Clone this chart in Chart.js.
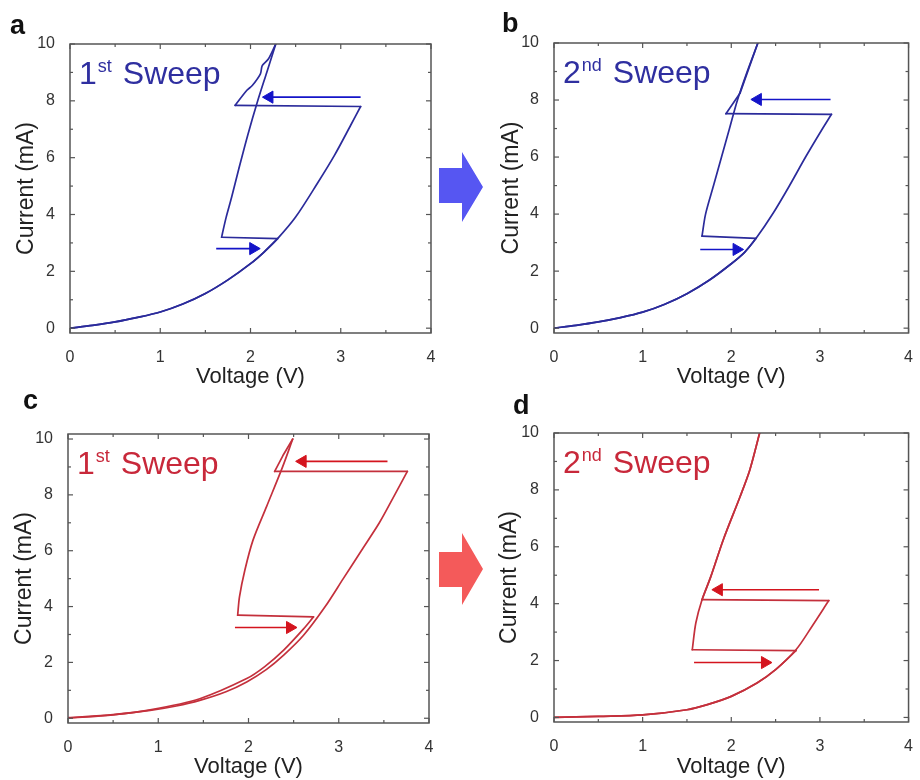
<!DOCTYPE html>
<html>
<head>
<meta charset="utf-8">
<title>I-V hysteresis sweeps</title>
<script src="https://cdn.jsdelivr.net/npm/chart.js@4.4.0/dist/chart.umd.min.js"></script>
<style>
  html, body { margin: 0; padding: 0; background: #fff; }
  #page { position: relative; width: 920px; height: 780px; overflow: hidden; background: #fff; }
  #page canvas { position: absolute; }
  .tag { position: absolute; font: bold 27px 'Liberation Sans', Arial, sans-serif; line-height: 27px; color: #111; }
  .bigArrow { position: absolute; z-index: 5; }
</style>
</head>
<body>
<div id="page">
  <canvas id="chartA" width="460" height="370" style="left:0;top:20px"></canvas>
  <canvas id="chartB" width="460" height="370" style="left:460px;top:20px"></canvas>
  <canvas id="chartC" width="460" height="390" style="left:0;top:390px"></canvas>
  <canvas id="chartD" width="460" height="390" style="left:460px;top:390px"></canvas>

  <div class="tag" style="left:10px;top:12px">a</div>
  <div class="tag" style="left:502px;top:10px">b</div>
  <div class="tag" style="left:23px;top:387px">c</div>
  <div class="tag" style="left:513px;top:392px">d</div>

  <div class="bigArrow" style="left:439px;top:152px;width:44px;height:70px;background:#5656f2;
       clip-path:polygon(0 16px,23px 16px,23px 0,44px 35px,23px 70px,23px 51px,0 51px)"></div>
  <div class="bigArrow" style="left:439px;top:533px;width:44px;height:72px;background:#f45a5a;
       clip-path:polygon(0 19px,23px 19px,23px 0,44px 36px,23px 72px,23px 54px,0 54px)"></div>
</div>

<script>
// ---------------------------------------------------------------------------
// Axis ticks (shared by all four panels)
// ---------------------------------------------------------------------------
const voltTicks = [0, 1, 2, 3, 4];
const voltMinor = [0.5, 1.5, 2.5, 3.5];
const currTicks = [0, 2, 4, 6, 8, 10];
const currMinor = [1, 3, 5, 7, 9];

// ---------------------------------------------------------------------------
// Panel a - 1st sweep (blue). *Breaks = indices where the sweep turns a corner
// ---------------------------------------------------------------------------
const aFwdV = [0, 0.25, 0.5, 0.75, 1.0, 1.25, 1.5, 1.75, 2.0, 2.15, 2.3, 2.5, 2.74, 2.93, 3.11, 3.22, 1.83, 1.96, 2.02, 2.11, 2.13, 2.2, 2.28];
const aFwdI = [0, 0.1, 0.22, 0.38, 0.57, 0.85, 1.22, 1.7, 2.27, 2.68, 3.15, 3.91, 5.09, 6.08, 7.14, 7.8, 7.84, 8.37, 8.54, 8.95, 9.24, 9.48, 10.0];
const aFwdBreaks = [15, 16];
const aRevV = [2.28, 2.18, 2.08, 1.97, 1.87, 1.79, 1.73, 1.69, 1.68, 2.3, 2.15, 2.0, 1.75, 1.5, 1.25, 1.0, 0.75, 0.5, 0.25, 0];
const aRevI = [10.0, 9.0, 8.0, 6.8, 5.6, 4.6, 3.9, 3.35, 3.2, 3.15, 2.68, 2.27, 1.7, 1.22, 0.85, 0.57, 0.38, 0.22, 0.1, 0];
const aRevBreaks = [8, 9];
const aArrowTopV = [3.22, 2.21];
const aArrowTopI = [8.13, 8.13];
const aArrowBotV = [1.62, 2.03];
const aArrowBotI = [2.8, 2.8];

// ---------------------------------------------------------------------------
// Panel b - 2nd sweep (blue)
// ---------------------------------------------------------------------------
const bFwdV = [0, 0.25, 0.5, 0.75, 1.0, 1.25, 1.5, 1.75, 2.0, 2.15, 2.28, 2.47, 2.65, 2.84, 3.02, 3.13, 1.94, 2.1, 2.3];
const bFwdI = [0, 0.1, 0.22, 0.37, 0.56, 0.84, 1.21, 1.68, 2.26, 2.66, 3.15, 4.02, 4.96, 6.01, 6.95, 7.5, 7.52, 8.25, 10.0];
const bFwdBreaks = [15, 16, 17];
const bRevV = [2.3, 2.18, 2.07, 1.98, 1.89, 1.8, 1.71, 1.67, 2.28, 2.15, 2.0, 1.75, 1.5, 1.25, 1.0, 0.75, 0.5, 0.25, 0];
const bRevI = [10.0, 9.0, 8.0, 7.0, 6.0, 5.0, 4.0, 3.23, 3.15, 2.66, 2.26, 1.68, 1.21, 0.84, 0.56, 0.37, 0.22, 0.1, 0];
const bRevBreaks = [7, 8];
const bArrowTopV = [3.12, 2.3];
const bArrowTopI = [8.02, 8.02];
const bArrowBotV = [1.65, 2.06];
const bArrowBotI = [2.76, 2.76];

// ---------------------------------------------------------------------------
// Panel c - 1st sweep (red)
// ---------------------------------------------------------------------------
const cFwdV = [0, 0.5, 0.91, 1.2, 1.46, 1.75, 1.98, 2.2, 2.39, 2.61, 2.85, 3.05, 3.25, 3.45, 3.62, 3.76, 2.29, 2.38, 2.49];
const cFwdI = [0, 0.12, 0.28, 0.44, 0.64, 0.95, 1.3, 1.75, 2.26, 2.97, 4.0, 5.0, 6.0, 7.0, 8.0, 8.84, 8.84, 9.4, 10.0];
const cFwdBreaks = [15, 16];
const cRevV = [2.49, 2.38, 2.2, 2.05, 1.96, 1.9, 1.88, 2.72, 2.61, 2.39, 2.18, 1.98, 1.46, 0.91, 0.5, 0];
const cRevI = [10.0, 9.02, 7.58, 6.38, 5.31, 4.35, 3.69, 3.63, 3.2, 2.44, 1.85, 1.42, 0.7, 0.3, 0.13, 0.02];
const cRevBreaks = [6, 7];
const cArrowTopV = [3.54, 2.6];
const cArrowTopI = [9.2, 9.2];
const cArrowBotV = [1.85, 2.46];
const cArrowBotI = [3.25, 3.25];

// ---------------------------------------------------------------------------
// Panel d - 2nd sweep (red)
// ---------------------------------------------------------------------------
const dFwdV = [0, 0.5, 1.0, 1.5, 1.73, 2.0, 2.29, 2.5, 2.73, 2.91, 3.1, 1.67, 1.77, 1.91, 2.1, 2.21, 2.32];
const dFwdI = [0, 0.04, 0.09, 0.27, 0.45, 0.74, 1.21, 1.68, 2.38, 3.2, 4.11, 4.14, 4.96, 6.25, 7.77, 8.71, 10.0];
const dFwdBreaks = [10, 11];
const dRevV = [2.32, 2.21, 2.1, 1.91, 1.77, 1.67, 1.6, 1.56, 2.73, 2.5, 2.29, 2.0, 1.73, 1.5, 1.0, 0.5, 0];
const dRevI = [10.0, 8.71, 7.77, 6.25, 4.96, 4.14, 3.32, 2.38, 2.35, 1.68, 1.21, 0.74, 0.45, 0.27, 0.09, 0.04, 0];
const dRevBreaks = [7, 8];
const dArrowTopV = [2.99, 1.86];
const dArrowTopI = [4.49, 4.49];
const dArrowBotV = [1.58, 2.38];
const dArrowBotI = [1.93, 1.93];

// ---------------------------------------------------------------------------
// Styling
// ---------------------------------------------------------------------------
const FONT = "'Liberation Sans', Arial, sans-serif";
const BLUE_LINE = '#2b2b9b';
const BLUE_ARROW = '#1414c8';
const RED_LINE = '#c4303c';
const RED_ARROW = '#d4141e';

// frame + inward ticks on all four sides
const frameTicks = {
  id: 'frameTicks',
  afterDatasetsDraw(chart) {
    const { ctx, chartArea: a, scales: { x, y } } = chart;
    ctx.save();
    ctx.strokeStyle = '#555';
    ctx.lineWidth = 1.5;
    ctx.strokeRect(a.left, a.top, a.right - a.left, a.bottom - a.top);
    ctx.lineWidth = 1.2;
    const tick = (x1, y1, x2, y2) => { ctx.beginPath(); ctx.moveTo(x1, y1); ctx.lineTo(x2, y2); ctx.stroke(); };
    voltTicks.concat(voltMinor).forEach(v => {
      const px = x.getPixelForValue(v);
      const len = voltTicks.includes(v) ? 5 : 3;
      tick(px, a.bottom, px, a.bottom - len);
      tick(px, a.top, px, a.top + len);
    });
    currTicks.concat(currMinor).forEach(v => {
      const py = y.getPixelForValue(v);
      const len = currTicks.includes(v) ? 5 : 3;
      tick(a.left, py, a.left + len, py);
      tick(a.right, py, a.right - len, py);
    });
    ctx.restore();
  }
};

// "1st Sweep" / "2nd Sweep" label with superscript
const sweepLabel = {
  id: 'sweepLabel',
  afterDraw(chart, args, o) {
    const { ctx, chartArea: a } = chart;
    let x = a.left + 9;
    const y = a.top + 40;
    ctx.save();
    ctx.fillStyle = o.color;
    ctx.textAlign = 'left';
    ctx.textBaseline = 'alphabetic';
    ctx.font = '32px ' + FONT;
    ctx.fillText(o.num, x, y);
    x += ctx.measureText(o.num).width + 1;
    ctx.font = '18px ' + FONT;
    ctx.fillText(o.sup, x, y - 12);
    x += ctx.measureText(o.sup).width + 11;
    ctx.font = '32px ' + FONT;
    ctx.fillText('Sweep', x, y);
    ctx.restore();
  }
};

const toPoints = (xs, ys) => xs.map((v, i) => ({ x: v, y: ys[i] }));

// one sweep, split at its corners so each smooth stretch gets its own spline
function curve(xs, ys, breaks, color) {
  const cuts = [0, ...breaks, xs.length - 1];
  const sets = [];
  for (let k = 0; k < cuts.length - 1; k++) {
    const s = cuts[k], e = cuts[k + 1];
    sets.push({
      data: toPoints(xs.slice(s, e + 1), ys.slice(s, e + 1)),
      showLine: true,
      borderColor: color,
      borderWidth: 1.7,
      borderCapStyle: 'round',
      borderJoinStyle: 'round',
      pointRadius: 0,
      tension: e - s > 2 ? 0.3 : 0
    });
  }
  return sets;
}

function arrow(xs, ys, color, dir) {
  return {
    data: toPoints(xs, ys),
    showLine: true,
    borderColor: color,
    borderWidth: 1.6,
    pointRadius: [0, 7],
    pointStyle: 'triangle',
    rotation: dir === 'left' ? -90 : 90,
    pointBackgroundColor: color,
    pointBorderColor: color,
    pointBorderWidth: 1
  };
}

function makePanel(id, p) {
  const ctx = document.getElementById(id);
  return new Chart(ctx, {
    type: 'scatter',
    data: { datasets: p.datasets },
    options: {
      responsive: false,
      animation: false,
      events: [],
      layout: { padding: { left: 0, top: p.padTop, right: p.padRight, bottom: 0 } },
      plugins: {
        legend: { display: false },
        tooltip: { enabled: false },
        sweepLabel: { num: p.num, sup: p.sup, color: p.textColor }
      },
      scales: {
        x: {
          type: 'linear',
          min: 0,
          max: 4,
          afterBuildTicks: s => { s.ticks = voltTicks.map(v => ({ value: v })); },
          afterFit: s => { s.height = p.xHeight; },
          grid: { display: false },
          border: { display: false },
          ticks: { color: '#333', padding: 7, font: { family: FONT, size: 16 } },
          title: {
            display: true, text: 'Voltage (V)', color: '#222',
            font: { family: FONT, size: 22, lineHeight: 1.2 },
            padding: { top: 0, bottom: 0 }
          }
        },
        y: {
          type: 'linear',
          min: p.yMin,
          max: p.yMax,
          afterBuildTicks: s => { s.ticks = currTicks.map(v => ({ value: v })); },
          afterFit: s => { s.width = p.yWidth; },
          grid: { display: false },
          border: { display: false },
          ticks: { color: '#333', padding: 7, font: { family: FONT, size: 16 } },
          title: {
            display: true, text: 'Current (mA)', color: '#222',
            font: { family: FONT, size: 23, lineHeight: 1.2 },
            padding: { top: p.yTitlePad, bottom: 0 }
          }
        }
      }
    },
    plugins: [frameTicks, sweepLabel]
  });
}

document.addEventListener('DOMContentLoaded', () => {
  makePanel('chartA', {
    datasets: [
      ...curve(aFwdV, aFwdI, aFwdBreaks, BLUE_LINE),
      ...curve(aRevV, aRevI, aRevBreaks, BLUE_LINE),
      arrow(aArrowTopV, aArrowTopI, BLUE_ARROW, 'left'),
      arrow(aArrowBotV, aArrowBotI, BLUE_ARROW, 'right')
    ],
    num: '1', sup: 'st', textColor: '#2f2fa0',
    yMin: -0.17, yMax: 10, padTop: 24, padRight: 29, yWidth: 70, xHeight: 57, yTitlePad: 13
  });

  makePanel('chartB', {
    datasets: [
      ...curve(bFwdV, bFwdI, bFwdBreaks, BLUE_LINE),
      ...curve(bRevV, bRevI, bRevBreaks, BLUE_LINE),
      arrow(bArrowTopV, bArrowTopI, BLUE_ARROW, 'left'),
      arrow(bArrowBotV, bArrowBotI, BLUE_ARROW, 'right')
    ],
    num: '2', sup: 'nd', textColor: '#2f2fa0',
    yMin: -0.17, yMax: 10, padTop: 23, padRight: 5, yWidth: 94, xHeight: 57, yTitlePad: 38
  });

  makePanel('chartC', {
    datasets: [
      ...curve(cFwdV, cFwdI, cFwdBreaks, RED_LINE),
      ...curve(cRevV, cRevI, cRevBreaks, RED_LINE),
      arrow(cArrowTopV, cArrowTopI, RED_ARROW, 'left'),
      arrow(cArrowBotV, cArrowBotI, RED_ARROW, 'right')
    ],
    num: '1', sup: 'st', textColor: '#c8283a',
    yMin: -0.17, yMax: 10.18, padTop: 44, padRight: 31, yWidth: 68, xHeight: 57, yTitlePad: 11
  });

  makePanel('chartD', {
    datasets: [
      ...curve(dFwdV, dFwdI, dFwdBreaks, RED_LINE),
      ...curve(dRevV, dRevI, dRevBreaks, RED_LINE),
      arrow(dArrowTopV, dArrowTopI, RED_ARROW, 'left'),
      arrow(dArrowBotV, dArrowBotI, RED_ARROW, 'right')
    ],
    num: '2', sup: 'nd', textColor: '#c8283a',
    yMin: -0.16, yMax: 10, padTop: 43, padRight: 6, yWidth: 94, xHeight: 58, yTitlePad: 36
  });
});
</script>
</body>
</html>
